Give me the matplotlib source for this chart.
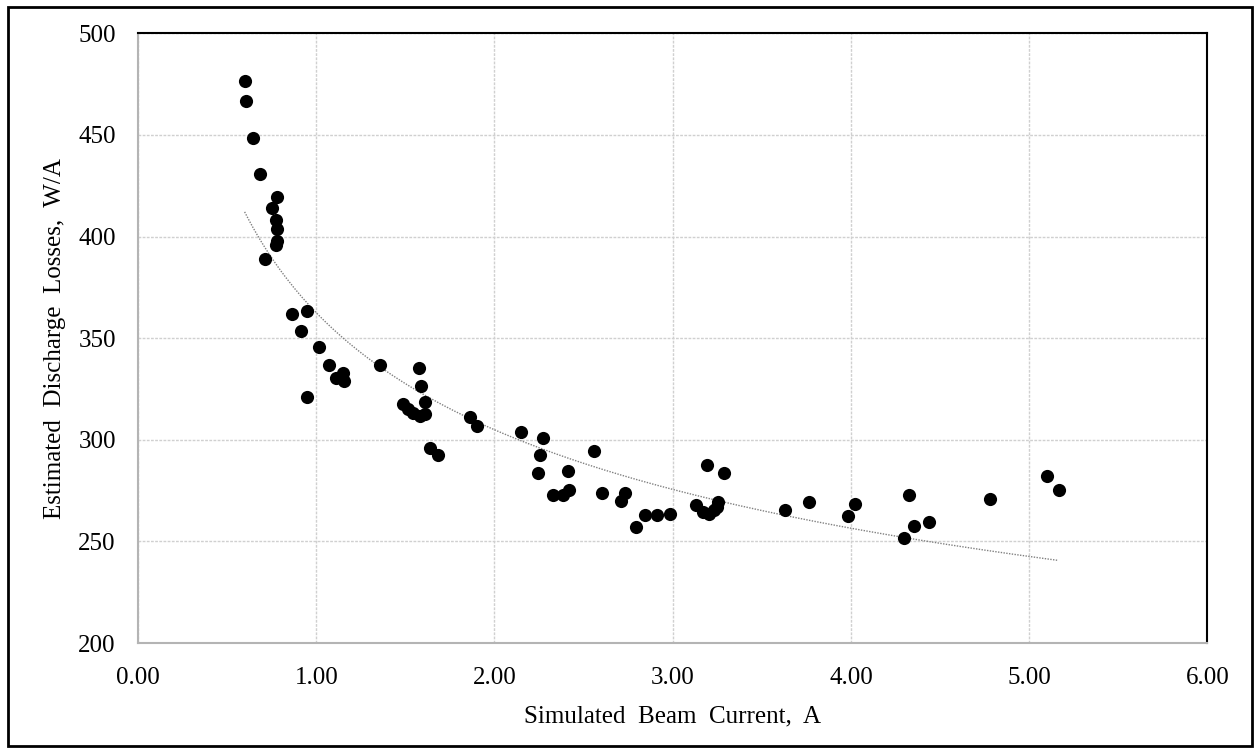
import numpy as np
import matplotlib
matplotlib.use('Agg')
import matplotlib.pyplot as plt
from matplotlib.patches import Rectangle

# Simulated beam current (A) and estimated discharge losses (W/A)
beam_current = [0.598, 0.608, 0.645, 0.683, 0.711, 0.752, 0.772, 0.772, 0.780, 0.782, 0.782,
                0.864, 0.913, 0.950, 0.950, 1.015, 1.073, 1.113, 1.150, 1.154, 1.357,
                1.486, 1.514, 1.542, 1.578, 1.580, 1.587, 1.610, 1.612, 1.636, 1.685,
                1.864, 1.901, 2.148, 2.243, 2.253, 2.271, 2.331, 2.384, 2.414, 2.421,
                2.557, 2.605, 2.711, 2.730, 2.795, 2.842, 2.911, 2.986, 3.130, 3.169,
                3.195, 3.206, 3.234, 3.248, 3.253, 3.290, 3.631, 3.767, 3.984, 4.023,
                4.300, 4.324, 4.356, 4.440, 4.781, 5.098, 5.165]
discharge_loss = [476.5, 466.7, 448.4, 430.9, 388.7, 414.1, 408.3, 395.6, 398.0, 419.5, 403.9,
                  361.9, 353.4, 363.4, 321.2, 345.9, 336.8, 330.4, 332.7, 329.1, 336.8,
                  317.6, 315.2, 313.2, 335.1, 311.9, 326.6, 318.5, 312.7, 296.1, 292.3,
                  311.4, 307.0, 303.8, 283.7, 292.7, 301.0, 272.7, 272.7, 284.5, 275.5,
                  294.6, 273.7, 270.1, 273.9, 257.0, 262.9, 262.9, 263.7, 267.8, 264.6,
                  287.7, 263.3, 265.3, 267.0, 269.5, 283.5, 265.3, 269.5, 262.6, 268.6,
                  251.8, 272.7, 257.7, 259.5, 271.1, 282.0, 275.5]

x_ticks = [0, 1, 2, 3, 4, 5, 6]
y_ticks = [200, 250, 300, 350, 400, 450, 500]

x = np.array(beam_current)
y = np.array(discharge_loss)

# power-law trendline (least squares in log-log space, like Excel's power fit)
b, log_a = np.polyfit(np.log(x), np.log(y), 1)
xfit = np.linspace(x.min(), x.max(), 200)
yfit = np.exp(log_a) * xfit ** b

plt.rcParams['font.family'] = ['Liberation Serif', 'DejaVu Serif']

fig = plt.figure(figsize=(12.55, 7.54), dpi=100)
ax = fig.add_axes([0.110, 0.147, 0.852, 0.809])

ax.plot(xfit, yfit, color='#808080', linestyle=(0, (1, 1)), linewidth=1.0, zorder=2)
ax.scatter(x, y, s=90, color='black', zorder=3, linewidths=0)

ax.set_xlim(0, 6)
ax.set_ylim(200, 500)
ax.set_xticks(x_ticks)
ax.set_yticks(y_ticks)
ax.set_xticklabels([f'{t:.2f}' for t in x_ticks])
ax.set_yticklabels([str(t) for t in y_ticks])
ax.tick_params(length=0, labelsize=18)
ax.tick_params(axis='x', pad=17)
ax.tick_params(axis='y', pad=16)
ax.grid(True, color='#d0d0d0', linestyle=(0, (2, 1)), linewidth=1.0)
ax.set_axisbelow(True)

for side in ['left', 'bottom']:
    ax.spines[side].set_color('#b4b4b4')
    ax.spines[side].set_linewidth(1.5)
for side in ['top', 'right']:
    ax.spines[side].set_color('black')
    ax.spines[side].set_linewidth(1.5)

ax.set_xlabel('Simulated  Beam  Current,  A', fontsize=18, labelpad=12)
ax.set_ylabel('Estimated  Discharge  Losses,  W/A', fontsize=18, labelpad=9)

fig.patches.append(Rectangle((0.006, 0.01), 0.992, 0.981, transform=fig.transFigure,
                             fill=False, edgecolor='black', linewidth=2))

fig.savefig('out.png', dpi=100)
